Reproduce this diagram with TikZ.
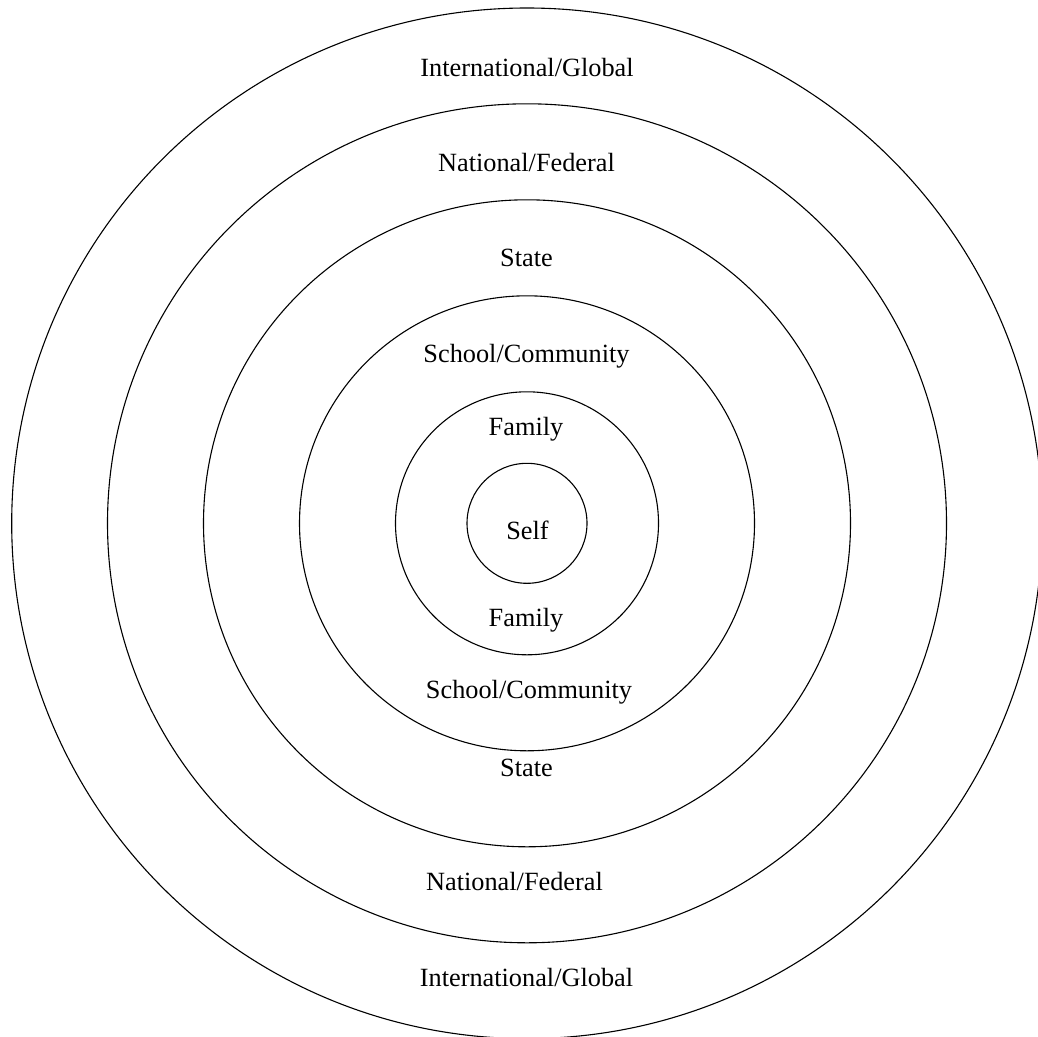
\documentclass[tikz,border=0pt]{standalone}
\usepackage{fontspec}
\setmainfont{Liberation Serif}
\begin{document}
\begin{tikzpicture}[x=1pt,y=-1pt,
  ring/.style={draw=black,line width=1.1pt},
  lbl/.style={anchor=base,inner sep=0pt,font=\fontsize{26.3}{30}\selectfont}]
\useasboundingbox (0,0) rectangle (1038,1036);
\clip (0,0) rectangle (1038,1036);
\coordinate (c) at (527,523.3);
\draw[ring] (c) circle (515.3);
\draw[ring] (c) circle (419.5);
\draw[ring] (c) circle (323.5);
\draw[ring] (c) circle (227.5);
\draw[ring] (c) circle (131.5);
\draw[ring] (c) circle (60);
\node[lbl] (intT) at (527,76) {International/Global};
\node[lbl] (natT) at (526.5,171) {National/Federal};
\node[lbl] (staT) at (526.5,266.7) {State};
\node[lbl] (schT) at (526.5,362.3) {School/Community};
\node[lbl] (famT) at (526,435) {Family};
\node[lbl] (self) at (527.5,539) {Self};
\node[lbl] (famB) at (526,626.7) {Family};
\node[lbl] (schB) at (529,698.3) {School/Community};
\node[lbl] (staB) at (526.5,776) {State};
\node[lbl] (natB) at (514.5,890) {National/Federal};
\node[lbl] (intB) at (526.5,986) {International/Global};
\end{tikzpicture}
\end{document}
